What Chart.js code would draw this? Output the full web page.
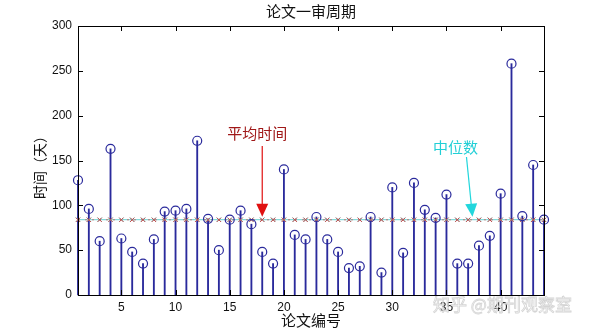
<!DOCTYPE html>
<html>
<head>
<meta charset="utf-8">
<script src="https://cdn.jsdelivr.net/npm/chart.js@4.4.1/dist/chart.umd.min.js"></script>
<style>
  html, body { margin: 0; padding: 0; background: #fff; }
  #wrap { width: 600px; height: 332px; }
</style>
</head>
<body>
<div id="wrap"><canvas id="chart"></canvas></div>
<script>
// paper ids and review times (days)
var paperIds = [];
for (var i = 1; i <= 44; i++) paperIds.push(i);
var reviewDays = [128, 96, 60, 163, 63, 48, 35, 62, 93, 94, 96, 172, 85, 50, 84, 94, 79, 48, 35, 140, 67, 62,
                  87, 62, 48, 30, 32, 87, 25, 120, 47, 125, 95, 86, 112, 35, 35, 55, 66, 113, 258, 88, 145, 84];
var xTicks = [5, 10, 15, 20, 25, 30, 35, 40];
var yTicks = [0, 50, 100, 150, 200, 250, 300];

var titleText = '论文一审周期';
var xLabel = '论文编号';
var yLabel = '时间（天）';

// mean and median of the review times
var meanDays = reviewDays.reduce(function (a, b) { return a + b; }, 0) / reviewDays.length;
var sorted = reviewDays.slice().sort(function (a, b) { return a - b; });
var mid = sorted.length / 2;
var medianDays = sorted.length % 2 ? sorted[Math.floor(mid)] : (sorted[mid - 1] + sorted[mid]) / 2;

var stemColor = '#2a2a9c';
var font = "'Liberation Sans', Arial, sans-serif";
var cjk = "'Noto Sans CJK SC', 'Liberation Sans', sans-serif";

function pts(vals) {
  return paperIds.map(function (x, k) { return { x: x, y: vals[k] }; });
}
function flat(v) {
  return paperIds.map(function (x) { return { x: x, y: v }; });
}

function arrow(ctx, x0, y0, x1, y1, color) {
  var ang = Math.atan2(y1 - y0, x1 - x0);
  var hl = 13, hw = 6;
  ctx.save();
  ctx.strokeStyle = color;
  ctx.fillStyle = color;
  ctx.lineWidth = 1.2;
  ctx.beginPath();
  ctx.moveTo(x0, y0);
  ctx.lineTo(x1 - Math.cos(ang) * hl * 0.6, y1 - Math.sin(ang) * hl * 0.6);
  ctx.stroke();
  var bx = x1 - Math.cos(ang) * hl, by = y1 - Math.sin(ang) * hl;
  ctx.beginPath();
  ctx.moveTo(x1, y1);
  ctx.lineTo(bx + Math.sin(ang) * hw, by - Math.cos(ang) * hw);
  ctx.lineTo(bx - Math.sin(ang) * hw, by + Math.cos(ang) * hw);
  ctx.closePath();
  ctx.fill();
  ctx.restore();
}

// box, inward ticks, labels, arrows and notes
var decor = {
  id: 'decor',
  afterDraw: function (chart) {
    var ctx = chart.ctx, a = chart.chartArea;
    var xs = chart.scales.x, ys = chart.scales.y;
    ctx.save();
    ctx.strokeStyle = '#000';
    ctx.lineWidth = 1;
    ctx.strokeRect(Math.round(a.left) + 0.5, Math.round(a.top) + 0.5,
                   Math.round(a.right - a.left), Math.round(a.bottom - a.top));
    ctx.beginPath();
    xTicks.forEach(function (v) {
      var px = Math.round(xs.getPixelForValue(v)) + 0.5;
      ctx.moveTo(px, a.bottom); ctx.lineTo(px, a.bottom - 5);
      ctx.moveTo(px, a.top); ctx.lineTo(px, a.top + 5);
    });
    yTicks.forEach(function (v) {
      var py = Math.round(ys.getPixelForValue(v)) + 0.5;
      ctx.moveTo(a.left, py); ctx.lineTo(a.left + 5, py);
      ctx.moveTo(a.right, py); ctx.lineTo(a.right - 5, py);
    });
    ctx.stroke();

    ctx.fillStyle = '#111';
    ctx.textAlign = 'center';
    ctx.textBaseline = 'middle';
    ctx.font = '15px ' + cjk;
    ctx.fillText(titleText, (a.left + a.right) / 2, 11);
    ctx.fillText(xLabel, (a.left + a.right) / 2, 320);
    ctx.font = '14px ' + cjk;
    ctx.save();
    ctx.translate(40, 164);
    ctx.rotate(-Math.PI / 2);
    ctx.fillText(yLabel, 0, 0);
    ctx.restore();

    // mean arrow
    ctx.font = '15px ' + cjk;
    var mx = xs.getPixelForValue(18), my = ys.getPixelForValue(meanDays) - 3;
    ctx.fillStyle = '#a01818';
    ctx.fillText('平均时间', mx - 5, 133);
    arrow(ctx, mx, 146, mx, my, '#e01010');

    // median arrow
    var dx = xs.getPixelForValue(37.4), dy = ys.getPixelForValue(medianDays) - 3;
    ctx.fillStyle = '#22cfd6';
    ctx.fillText('中位数', dx - 17, 147);
    arrow(ctx, dx - 6, 157, dx, dy, '#22d6dc');

    // watermark
    ctx.font = '17px ' + cjk;
    ctx.textAlign = 'left';
    ctx.lineWidth = 0.8;
    ctx.strokeStyle = 'rgba(170,170,170,0.5)';
    ctx.fillStyle = 'rgba(255,255,255,0.85)';
    ctx.fillText('知乎 @期刊观察室', 433, 305);
    ctx.strokeText('知乎 @期刊观察室', 433, 305);
    ctx.restore();
  }
};

new Chart(document.getElementById('chart'), {
  type: 'bar',
  data: {
    datasets: [
      {
        type: 'line',
        label: '平均时间',
        data: flat(meanDays),
        borderColor: 'rgba(210,70,70,0.7)',
        borderWidth: 1,
        borderDash: [2, 5],
        pointStyle: 'crossRot',
        pointRadius: 3,
        pointBorderColor: '#c84848',
        pointBorderWidth: 1,
        clip: false,
        order: 1
      },
      {
        type: 'line',
        label: '中位数',
        data: flat(medianDays),
        borderColor: '#86dada',
        borderWidth: 1.3,
        pointStyle: 'crossRot',
        pointRadius: 3,
        pointBorderColor: '#66cccc',
        pointBorderWidth: 1,
        clip: false,
        order: 2
      },
      {
        type: 'line',
        label: '时间',
        data: pts(reviewDays),
        showLine: false,
        pointStyle: 'circle',
        pointRadius: 4.5,
        pointBorderColor: stemColor,
        pointBackgroundColor: 'rgba(255,255,255,0)',
        pointBorderWidth: 1.2,
        clip: false,
        order: 0
      },
      {
        type: 'bar',
        label: 'stem',
        data: pts(reviewDays),
        backgroundColor: stemColor,
        barThickness: 1.2,
        grouped: false,
        clip: false,
        order: 3
      }
    ]
  },
  options: {
    responsive: true,
    maintainAspectRatio: false,
    animation: false,
    layout: { padding: { left: 0, top: 26, right: 56, bottom: 0 } },
    plugins: {
      legend: { display: false },
      title: { display: false },
      tooltip: { enabled: false }
    },
    scales: {
      x: {
        type: 'linear',
        min: 1,
        max: 44,
        offset: false,
        grid: { display: false, drawTicks: false },
        border: { display: false },
        afterBuildTicks: function (s) { s.ticks = xTicks.map(function (v) { return { value: v }; }); },
        afterFit: function (s) { s.height = 37; },
        ticks: { padding: 5, color: '#111', font: { family: font, size: 12 }, maxRotation: 0, autoSkip: false }
      },
      y: {
        min: 0,
        max: 300,
        grid: { display: false, drawTicks: false },
        border: { display: false },
        afterBuildTicks: function (s) { s.ticks = yTicks.map(function (v) { return { value: v }; }); },
        afterFit: function (s) { s.width = 78; },
        ticks: { padding: 6, color: '#111', font: { family: font, size: 12 } }
      }
    }
  },
  plugins: [decor]
});
</script>
</body>
</html>
